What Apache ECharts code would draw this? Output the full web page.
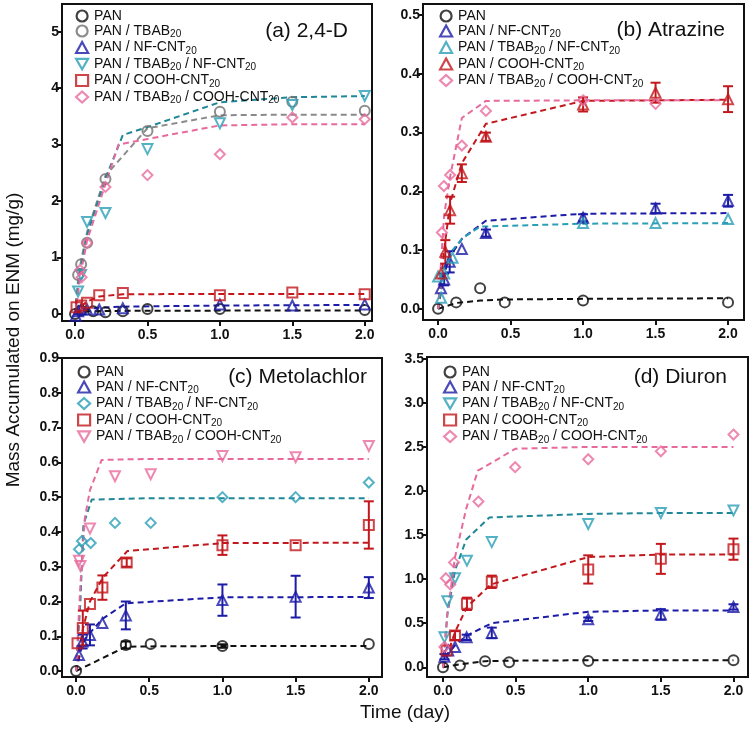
<!DOCTYPE html>
<html>
<head>
<meta charset="utf-8">
<script src="https://cdn.jsdelivr.net/npm/echarts@6/dist/echarts.min.js"></script>
<style>
  html, body { margin: 0; padding: 0; background: #fff; }
  #chart { width: 750px; height: 733px; }
</style>
</head>
<body>
<div id="chart"></div>
<script>
// tick labels
const xTicks = [0, 0.5, 1, 1.5, 2];
const aTicks = [0, 1, 2, 3, 4, 5];
const bTicks = [0, 0.1, 0.2, 0.3, 0.4, 0.5];
const cTicks = [0, 0.1, 0.2, 0.3, 0.4, 0.5, 0.6, 0.7, 0.8, 0.9];
const dTicks = [0, 0.5, 1, 1.5, 2, 2.5, 3, 3.5];

// (a) 2,4-D  [time, mass]
const aPAN = [[0, 0.0], [0.042, 0.06], [0.125, 0.05], [0.21, 0.03], [0.33, 0.05], [0.5, 0.09], [1.0, 0.09], [2.0, 0.07]];
const aPANfit = [[0, 0], [0.042, 0.04], [0.125, 0.05], [0.33, 0.055], [1.0, 0.06], [2.0, 0.06]];
const aTBAB = [[0.021, 0.69], [0.042, 0.88], [0.083, 1.26], [0.21, 2.39], [0.5, 3.24], [1.0, 3.58], [1.5, 3.76], [2.0, 3.6]];
const aTBABfit = [[0, 0], [0.021, 0.6], [0.042, 0.95], [0.083, 1.45], [0.21, 2.45], [0.5, 3.29], [1.0, 3.52], [1.5, 3.53], [2.0, 3.53]];
const aNF = [[0.005, -0.03], [0.021, 0.05], [0.042, 0.08], [0.083, 0.08], [0.167, 0.08], [0.33, 0.1], [1.0, 0.17], [1.5, 0.15], [2.0, 0.17]];
const aNFfit = [[0, 0], [0.042, 0.08], [0.167, 0.11], [0.33, 0.13], [1.0, 0.15], [2.0, 0.16]];
const aTN = [[0.021, 0.4], [0.042, 0.69], [0.083, 1.63], [0.21, 1.79], [0.5, 2.92], [1.0, 3.38], [1.5, 3.7], [2.0, 3.86]];
const aTNfit = [[0, 0], [0.021, 0.5], [0.042, 0.85], [0.083, 1.4], [0.21, 2.4], [0.33, 3.17], [0.5, 3.31], [1.0, 3.75], [1.5, 3.84], [2.0, 3.86]];
const aCOOH = [[0.01, 0.12], [0.042, 0.15], [0.083, 0.2], [0.167, 0.33], [0.33, 0.37], [1.0, 0.33], [1.5, 0.38], [2.0, 0.35]];
const aCOOHfit = [[0, 0], [0.021, 0.1], [0.083, 0.22], [0.167, 0.31], [0.33, 0.35], [1.0, 0.355], [2.0, 0.355]];
const aTC = [[0.035, 0.78], [0.045, 0.65], [0.083, 1.26], [0.21, 2.25], [0.5, 2.46], [1.0, 2.83], [1.5, 3.48], [2.0, 3.45]];
const aTCfit = [[0, 0], [0.042, 0.75], [0.083, 1.3], [0.21, 2.3], [0.3, 3.0], [0.5, 3.1], [1.0, 3.34], [1.5, 3.36], [2.0, 3.36]];

// (b) Atrazine  [time, mass, error]
const bPAN = [[0, 0], [0.125, 0.011], [0.29, 0.035], [0.46, 0.011], [1.0, 0.014], [2.0, 0.011]];
const bPANfit = [[0, 0], [0.125, 0.01], [0.29, 0.014], [0.46, 0.016], [1.0, 0.017], [2.0, 0.018]];
const bNF = [[0.02, 0.035, 0], [0.042, 0.05, 0.01], [0.08, 0.08, 0.018], [0.164, 0.102, 0], [0.33, 0.129, 0.006], [1.0, 0.155, 0.006], [1.5, 0.171, 0.008], [2.0, 0.184, 0.01]];
const bNFfit = [[0, 0], [0.042, 0.06], [0.083, 0.09], [0.167, 0.12], [0.33, 0.15], [1.0, 0.162], [2.0, 0.163]];
const bTN = [[0.0, 0.055], [0.021, 0.019], [0.042, 0.06], [0.1, 0.087], [1.0, 0.146], [1.5, 0.146], [2.0, 0.153]];
const bTNfit = [[0, 0], [0.042, 0.07], [0.083, 0.095], [0.167, 0.12], [0.29, 0.14], [1.0, 0.145], [2.0, 0.146]];
const bCOOH = [[0.021, 0.06, 0], [0.05, 0.097, 0.02], [0.083, 0.168, 0.023], [0.164, 0.231, 0.015], [0.33, 0.293, 0.007], [1.0, 0.348, 0.012], [1.5, 0.368, 0.017], [2.0, 0.357, 0.022]];
const bCOOHfit = [[0, 0], [0.042, 0.1], [0.083, 0.18], [0.164, 0.248], [0.33, 0.315], [1.0, 0.354], [2.0, 0.356]];
const bTC = [[0.026, 0.13], [0.04, 0.209], [0.083, 0.228], [0.164, 0.278], [0.33, 0.337], [1.0, 0.355], [1.5, 0.349]];
const bTCfit = [[0, 0], [0.026, 0.1], [0.042, 0.16], [0.083, 0.225], [0.164, 0.325], [0.33, 0.354], [1.0, 0.355], [2.0, 0.355]];

// (c) Metolachlor
const cPAN = [[0, 0.0, 0], [0.34, 0.075, 0.01], [0.51, 0.078, 0], [1.0, 0.072, 0.005], [2.0, 0.078, 0]];
const cPANfit = [[0, 0], [0.34, 0.07], [0.51, 0.071], [1.0, 0.072], [2.0, 0.072]];
const cNF = [[0.02, 0.046, 0], [0.045, 0.085, 0.02], [0.095, 0.104, 0.03], [0.18, 0.138, 0], [0.34, 0.16, 0.04], [1.0, 0.204, 0.045], [1.5, 0.214, 0.06], [2.0, 0.24, 0.03]];
const cNFfit = [[0, 0], [0.045, 0.08], [0.095, 0.11], [0.18, 0.15], [0.34, 0.195], [1.0, 0.212], [2.0, 0.213]];
const cTN = [[0.02, 0.35], [0.04, 0.374], [0.1, 0.368], [0.266, 0.426], [0.51, 0.426], [1.0, 0.5], [1.5, 0.5], [2.0, 0.542]];
const cTNfit = [[0, 0], [0.03, 0.2], [0.05, 0.42], [0.107, 0.493], [0.5, 0.497], [2.0, 0.497]];
const cCOOH = [[0.01, 0.08, 0], [0.046, 0.124, 0.05], [0.095, 0.193, 0], [0.18, 0.24, 0.035], [0.346, 0.312, 0.012], [1.0, 0.362, 0.028], [1.5, 0.362, 0], [2.0, 0.42, 0.068]];
const cCOOHfit = [[0, 0], [0.046, 0.12], [0.095, 0.2], [0.185, 0.27], [0.35, 0.345], [1.0, 0.368], [2.0, 0.369]];
const cTC = [[0.02, 0.317], [0.03, 0.302], [0.095, 0.41], [0.266, 0.56], [0.51, 0.566], [1.0, 0.618], [1.5, 0.615], [2.0, 0.647]];
const cTCfit = [[0, 0], [0.03, 0.25], [0.06, 0.44], [0.095, 0.52], [0.175, 0.607], [0.5, 0.61], [2.0, 0.61]];

// (d) Diuron
const dPAN = [[0, 0], [0.117, 0.02], [0.29, 0.07], [0.455, 0.057], [1.0, 0.072], [2.0, 0.08]];
const dPANfit = [[0, 0], [0.117, 0.035], [0.29, 0.07], [0.455, 0.075], [1.0, 0.08], [2.0, 0.08]];
const dNF = [[0.01, 0.12, 0.03], [0.036, 0.19, 0], [0.083, 0.23, 0], [0.163, 0.34, 0.03], [0.336, 0.39, 0.06], [1.0, 0.545, 0.02], [1.5, 0.6, 0.06], [2.0, 0.685, 0.03]];
const dNFfit = [[0, 0], [0.036, 0.15], [0.083, 0.25], [0.163, 0.36], [0.336, 0.5], [1.0, 0.63], [1.5, 0.645], [2.0, 0.645]];
const dTN = [[0.01, 0.34], [0.03, 0.75], [0.083, 1.01], [0.165, 1.21], [0.336, 1.42], [1.0, 1.625], [1.5, 1.75], [2.0, 1.78]];
const dTNfit = [[0, 0], [0.03, 0.6], [0.083, 1.1], [0.16, 1.45], [0.32, 1.7], [1.0, 1.74], [1.5, 1.75], [2.0, 1.75]];
const dCOOH = [[0.025, 0.19, 0], [0.083, 0.36, 0.05], [0.165, 0.72, 0.07], [0.336, 0.97, 0.07], [1.0, 1.11, 0.16], [1.5, 1.23, 0.17], [2.0, 1.34, 0.12]];
const dCOOHfit = [[0, 0], [0.083, 0.4], [0.165, 0.685], [0.33, 0.94], [1.0, 1.25], [1.5, 1.28], [2.0, 1.28]];
const dTC = [[0.01, 0.23], [0.02, 1.01], [0.05, 0.94], [0.076, 1.19], [0.244, 1.88], [0.497, 2.27], [1.0, 2.36], [1.5, 2.45], [2.0, 2.64]];
const dTCfit = [[0, 0], [0.03, 0.6], [0.083, 1.25], [0.16, 1.8], [0.24, 2.23], [0.5, 2.48], [1.0, 2.5], [2.0, 2.5]];

const BLACK = '#111111', GRAY = '#707070', BLUE = '#1c1ca8', CYAN = '#2a9fb6', TEAL = '#1f8797', RED = '#c2181d', PINK = '#e86a9c';
const DOWN = 'path://M0,0L10,0L5,8.66Z';
const labelFont = '"Liberation Sans Narrow", "Liberation Sans", Arial, sans-serif';
const textFont = '"Liberation Sans", Arial, sans-serif';

const chart = echarts.init(document.getElementById('chart'));

const grids = [
  { left: 62, top: 4, width: 310, height: 317 },
  { left: 423, top: 4, width: 321, height: 316 },
  { left: 62, top: 358, width: 320, height: 319 },
  { left: 427, top: 357, width: 321, height: 320 }
];
const xRanges = [[-0.09, 2.05], [-0.104, 2.11], [-0.096, 2.09], [-0.11, 2.1]];
const yRanges = [[-0.124, 5.49], [-0.019, 0.519], [-0.017, 0.9], [-0.11, 3.52]];
const yTickSets = [aTicks, bTicks, cTicks, dTicks];

const series = [];
const legendNames = [[], [], [], []];

function scatter(gi, name, data, color, symbol) {
  const id = 'abcd'[gi] + ':' + name;
  legendNames[gi].push({ name: id, itemStyle: { color: 'rgba(255,255,255,0)', borderColor: color, borderWidth: 2.2 } });
  series.push({
    type: 'scatter', name: id, xAxisIndex: gi, yAxisIndex: gi,
    data: data.map(r => [r[0], r[1]]),
    symbol: symbol, symbolSize: 10,
    itemStyle: { color: 'rgba(255,255,255,0)', borderColor: color, borderWidth: 2 },
    z: 5, silent: true
  });
  const bars = data.filter(r => r.length > 2 && r[2] > 0);
  if (bars.length) {
    series.push({
      type: 'custom', xAxisIndex: gi, yAxisIndex: gi, data: bars, z: 4, silent: true,
      encode: { x: 0, y: 1 },
      renderItem: function (params, api) {
        const x = api.value(0), y = api.value(1), e = api.value(2);
        const lo = api.coord([x, y - e]), hi = api.coord([x, y + e]);
        const st = { stroke: color, lineWidth: 2 };
        return {
          type: 'group', children: [
            { type: 'line', shape: { x1: lo[0], y1: lo[1], x2: hi[0], y2: hi[1] }, style: st },
            { type: 'line', shape: { x1: lo[0] - 5, y1: lo[1], x2: lo[0] + 5, y2: lo[1] }, style: st },
            { type: 'line', shape: { x1: hi[0] - 5, y1: hi[1], x2: hi[0] + 5, y2: hi[1] }, style: st }
          ]
        };
      }
    });
  }
}

function fit(gi, data, color) {
  series.push({
    type: 'line', xAxisIndex: gi, yAxisIndex: gi, data: data,
    symbol: 'none', silent: true, z: 3,
    lineStyle: { color: color, width: 2, type: [6, 4] }
  });
}

const T1 = 'PAN / TBAB20', NF = 'PAN / NF-CNT20', TN = 'PAN / TBAB20 / NF-CNT20', CO = 'PAN / COOH-CNT20', TC = 'PAN / TBAB20 / COOH-CNT20';

// (a)
fit(0, aPANfit, BLACK); fit(0, aTBABfit, '#8a8a8a'); fit(0, aNFfit, BLUE); fit(0, aTNfit, TEAL); fit(0, aCOOHfit, RED); fit(0, aTCfit, PINK);
scatter(0, 'PAN', aPAN, BLACK, 'circle');
scatter(0, T1, aTBAB, GRAY, 'circle');
scatter(0, NF, aNF, BLUE, 'triangle');
scatter(0, TN, aTN, CYAN, DOWN);
scatter(0, CO, aCOOH, RED, 'rect');
scatter(0, TC, aTC, PINK, 'diamond');
// (b)
fit(1, bPANfit, BLACK); fit(1, bNFfit, BLUE); fit(1, bTNfit, CYAN); fit(1, bCOOHfit, RED); fit(1, bTCfit, PINK);
scatter(1, 'PAN', bPAN, BLACK, 'circle');
scatter(1, NF, bNF, BLUE, 'triangle');
scatter(1, TN, bTN, CYAN, 'triangle');
scatter(1, CO, bCOOH, RED, 'triangle');
scatter(1, TC, bTC, PINK, 'diamond');
// (c)
fit(2, cPANfit, BLACK); fit(2, cNFfit, BLUE); fit(2, cTNfit, TEAL); fit(2, cCOOHfit, RED); fit(2, cTCfit, PINK);
scatter(2, 'PAN', cPAN, BLACK, 'circle');
scatter(2, NF, cNF, BLUE, 'triangle');
scatter(2, TN, cTN, CYAN, 'diamond');
scatter(2, CO, cCOOH, RED, 'rect');
scatter(2, TC, cTC, PINK, DOWN);
// (d)
fit(3, dPANfit, BLACK); fit(3, dNFfit, BLUE); fit(3, dTNfit, TEAL); fit(3, dCOOHfit, RED); fit(3, dTCfit, PINK);
scatter(3, 'PAN', dPAN, BLACK, 'circle');
scatter(3, NF, dNF, BLUE, 'triangle');
scatter(3, TN, dTN, CYAN, DOWN);
scatter(3, CO, dCOOH, RED, 'rect');
scatter(3, TC, dTC, PINK, 'diamond');

const legendPos = [[70, 4], [434, 4], [72, 360], [438, 360]];
const legends = legendNames.map((items, i) => ({
  data: items, orient: 'vertical', left: legendPos[i][0], top: legendPos[i][1],
  itemGap: 1, itemWidth: 12, itemHeight: 11, selectedMode: false,
  formatter: n => n.slice(2).replace(/20/g, '{s|20}'),
  textStyle: {
    fontFamily: textFont, fontSize: 14, color: '#111', padding: [0, 0, 0, 1],
    rich: { s: { fontFamily: textFont, fontSize: 10, color: '#111', padding: [7, 0, 0, 0] } }
  }
}));

const titleSpecs = [
  ['(a) 2,4-D', 397, 16], ['(b) Atrazine', 20, 15],
  ['(c) Metolachlor', 378, 362], ['(d) Diuron', 18, 362]
];

chart.setOption({
  animation: false,
  title: titleSpecs.map(t => ({
    text: t[0], right: t[1], top: t[2],
    textStyle: { fontFamily: textFont, fontSize: 21, fontWeight: 'normal', color: '#111' }
  })),
  legend: legends,
  grid: grids.map(g => Object.assign({ show: true, borderColor: '#111', borderWidth: 2, backgroundColor: 'transparent' }, g)),
  xAxis: grids.map((g, i) => ({
    type: 'value', gridIndex: i, min: xRanges[i][0], max: xRanges[i][1],
    axisLine: { show: true, onZero: false, lineStyle: { color: '#111', width: 2 } },
    axisTick: { show: true, length: 5, lineStyle: { width: 2, color: '#111' }, customValues: xTicks },
    axisLabel: { customValues: xTicks, formatter: v => v.toFixed(1), fontFamily: labelFont, fontWeight: 'bold', fontSize: 14, color: '#111', margin: 7 },
    splitLine: { show: false }
  })),
  yAxis: grids.map((g, i) => ({
    type: 'value', gridIndex: i, min: yRanges[i][0], max: yRanges[i][1],
    axisLine: { show: true, onZero: false, lineStyle: { color: '#111', width: 2 } },
    axisTick: { show: true, length: 5, lineStyle: { width: 2, color: '#111' }, customValues: yTickSets[i] },
    axisLabel: { customValues: yTickSets[i], formatter: v => (i === 0 ? String(Math.round(v)) : v.toFixed(1)), fontFamily: labelFont, fontWeight: 'bold', fontSize: 14, color: '#111', margin: 3 },
    splitLine: { show: false }
  })),
  graphic: [
    { type: 'text', x: 14, y: 340, rotation: Math.PI / 2, style: { text: 'Mass Accumulated on ENM (mg/g)', font: '19px ' + textFont, fill: '#111', align: 'center', verticalAlign: 'middle' } },
    { type: 'text', x: 405, y: 713, style: { text: 'Time (day)', font: '19px ' + textFont, fill: '#111', align: 'center', verticalAlign: 'middle' } }
  ],
  series: series
});
</script>
</body>
</html>
